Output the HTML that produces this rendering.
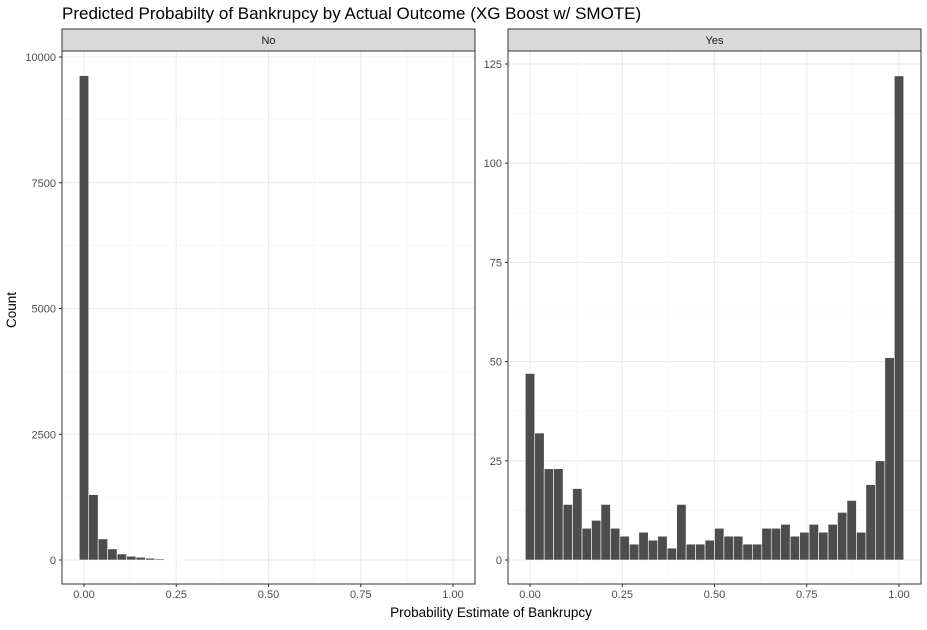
<!DOCTYPE html>
<html><head><meta charset="utf-8"><style>
body{margin:0;background:#fff;font-family:"Liberation Sans",Arial,sans-serif}
svg text{font-family:"Liberation Sans",Arial,sans-serif}
</style></head><body>
<svg id="c" width="927" height="625" xmlns="http://www.w3.org/2000/svg">
<text x="62" y="19" font-size="17" fill="#000">Predicted Probabilty of Bankrupcy by Actual Outcome (XG Boost w/ SMOTE)</text>
<text transform="translate(16,310) rotate(-90)" font-size="13.5" text-anchor="middle" fill="#000">Count</text>
<text x="491" y="617" font-size="13.5" text-anchor="middle" fill="#000">Probability Estimate of Bankrupcy</text>
</svg>
<script>
const xTicks=[0,0.25,0.5,0.75,1];
const xTickLabels=["0.00","0.25","0.50","0.75","1.00"];
const noCounts=[9630,1300,420,220,120,75,55,35,22,12,5];
const noTicks=[0,2500,5000,7500,10000];
const yesCounts=[47,32,23,23,14,18,8,10,14,8,6,4,7,5,6,3,14,4,4,5,8,6,6,4,4,8,8,9,6,7,9,7,9,12,15,7,19,25,51,122];
const yesTicks=[0,25,50,75,100,125];
const NS="http://www.w3.org/2000/svg";
const svg=document.getElementById('c');
function mk(t,a,p){const e=document.createElementNS(NS,t);for(const k in a)e.setAttribute(k,a[k]);(p||svg).appendChild(e);return e;}
const nb=40,bw=1/(nb-1);
function panel(px0,px1,label,counts,ticks,ymax,name){
  const top=51,bot=584;
  const xs=v=>px0+22+(v)*(px1-px0-44)/1;
  const y0=560,yTop=ticks===noTicks?57:64;
  const ys=v=>y0-(v/ymax)*(y0-yTop);
  const g=mk('g',{});
  
  
  mk('rect',{x:px0,y:top,width:px1-px0,height:bot-top,fill:'#fff'},g);
  // minor grid
  for(let i=0;i<ticks.length-1;i++){const m=(ticks[i]+ticks[i+1])/2;mk('line',{x1:px0,x2:px1,y1:ys(m),y2:ys(m),stroke:'#f2f2f2','stroke-width':0.6},g);}
  for(let i=0;i<xTicks.length-1;i++){const m=(xTicks[i]+xTicks[i+1])/2;mk('line',{x1:xs(m),x2:xs(m),y1:top,y2:bot,stroke:'#f2f2f2','stroke-width':0.6},g);}
  ticks.forEach(t=>{mk('line',{x1:px0,x2:px1,y1:ys(t),y2:ys(t),stroke:'#ebebeb','stroke-width':1.1},g);
    const tl=mk('text',{x:px0-6,y:ys(t)+4,'font-size':11,'text-anchor':'end',fill:'#4d4d4d'},g);tl.textContent=t;
    
    mk('line',{x1:px0-3,x2:px0,y1:ys(t),y2:ys(t),stroke:'#333'},g);});
  xTicks.forEach((t,i)=>{mk('line',{x1:xs(t),x2:xs(t),y1:top,y2:bot,stroke:'#ebebeb','stroke-width':1.1},g);
    mk('line',{x1:xs(t),x2:xs(t),y1:bot,y2:bot+3,stroke:'#333'},g);
    const tl=mk('text',{x:xs(t),y:bot+14,'font-size':11,'text-anchor':'middle',fill:'#4d4d4d'},g);tl.textContent=xTickLabels[i];
    });
  const pxPerUnit=(px1-px0-44);
  counts.forEach((c,i)=>{const cx=xs(i*bw);const w=bw*pxPerUnit;
    const r=mk('rect',{x:cx-w/2,y:ys(c),width:w,height:y0-ys(c),fill:'#4d4d4d',stroke:'#fff','stroke-width':0.6},g);
    });
  mk('rect',{x:px0,y:top,width:px1-px0,height:bot-top,fill:'none',stroke:'#333','stroke-width':1},g);
  const s=mk('rect',{x:px0,y:29,width:px1-px0,height:22,fill:'#d9d9d9',stroke:'#333','stroke-width':1},g);
  
  const st=mk('text',{x:(px0+px1)/2,y:44,'font-size':11,'text-anchor':'middle',fill:'#1a1a1a'},g);st.textContent=label;
  
}
panel(62,475,'No',noCounts,noTicks,10000,'no');
panel(508,921,'Yes',yesCounts,yesTicks,125,'yes');
</script>
</body></html>
